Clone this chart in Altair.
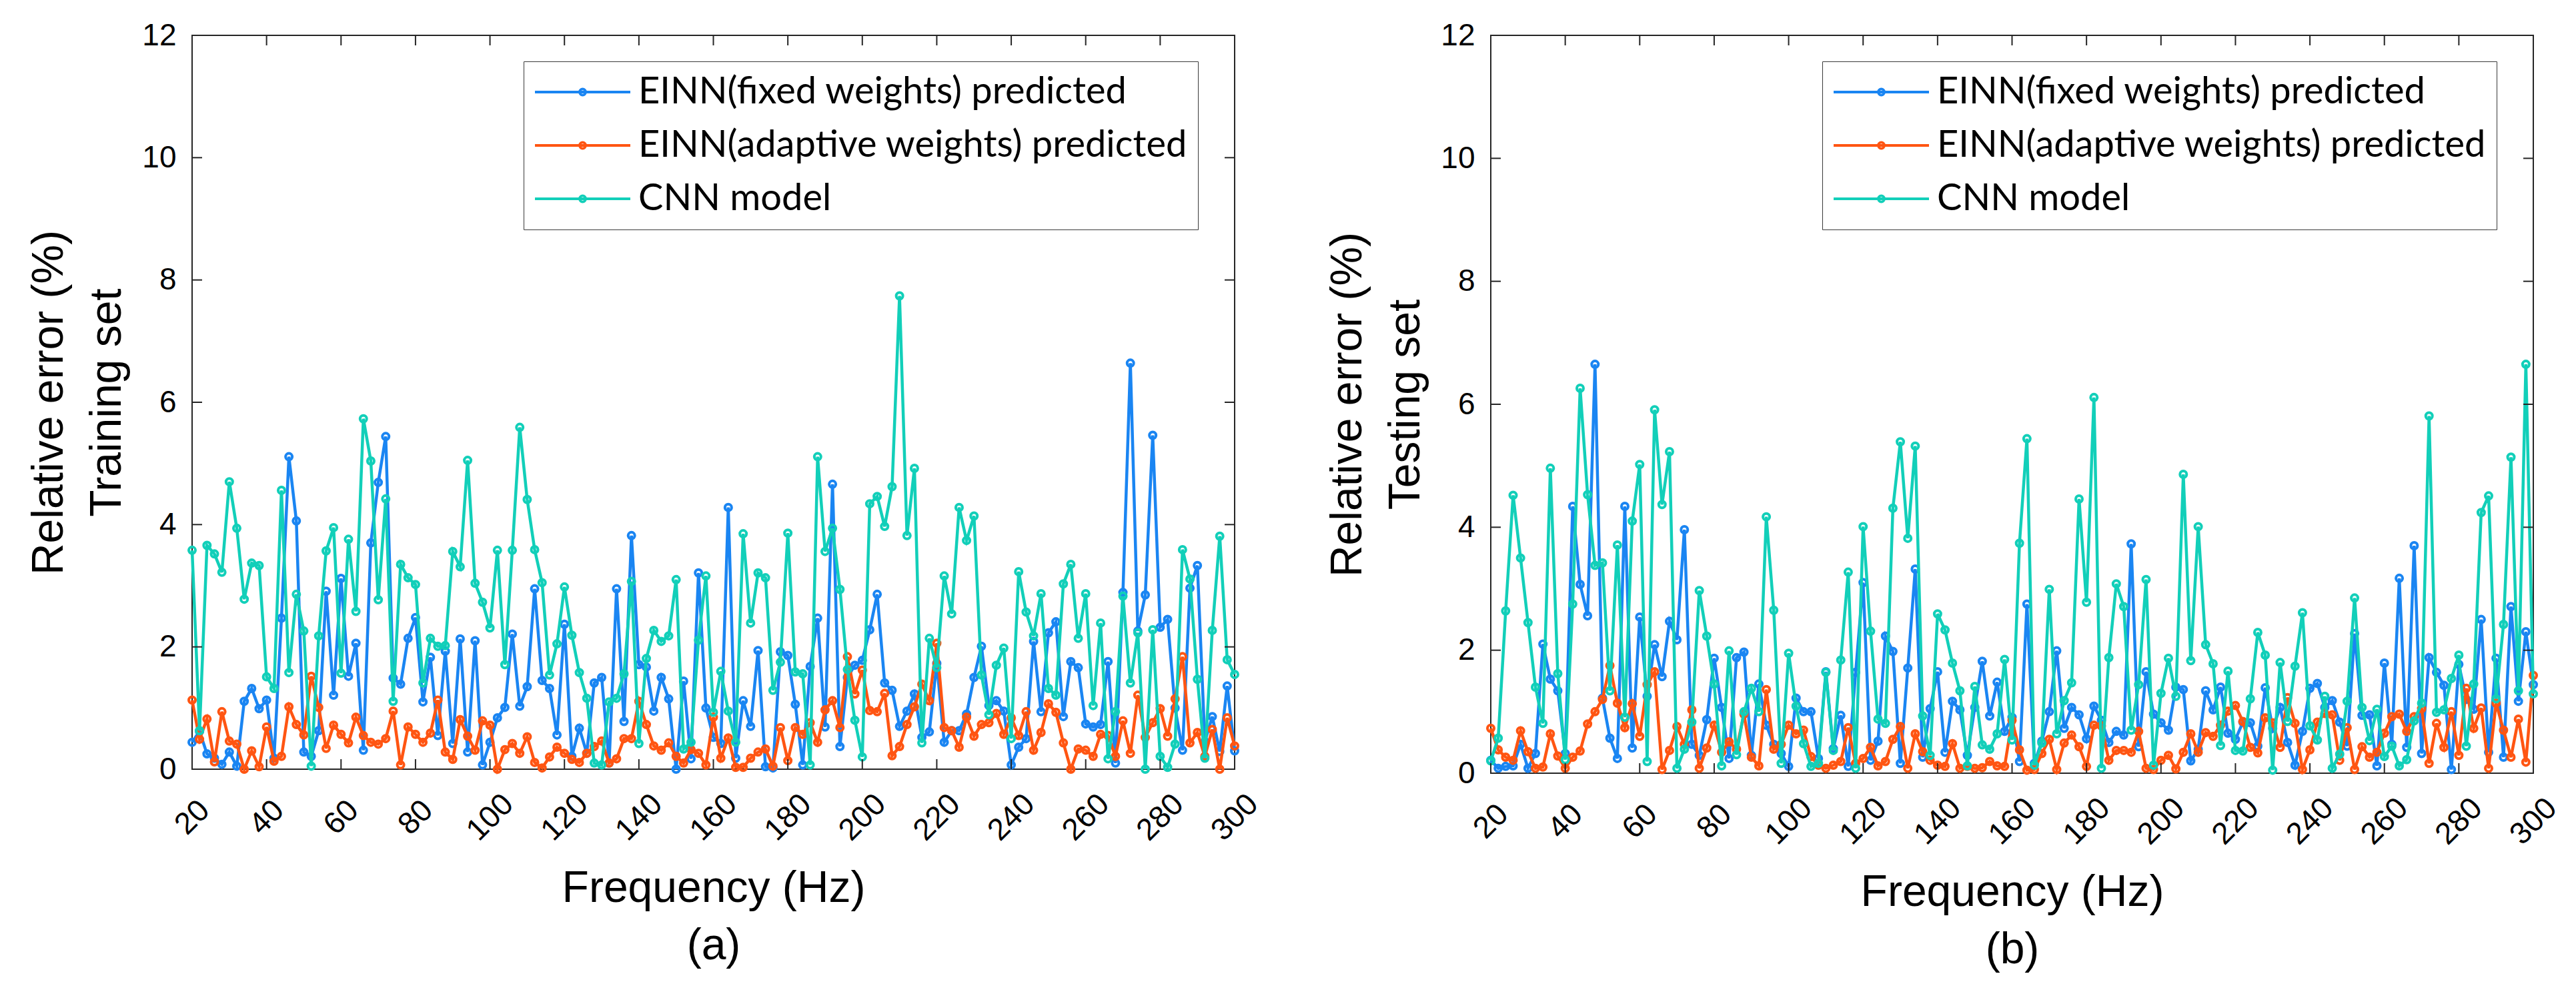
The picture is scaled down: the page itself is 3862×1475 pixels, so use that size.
import altair as alt
import pandas as pd

FREQ = list(range(20, 301, 2))
SERIES = ["EINN(fixed weights) predicted", "EINN(adaptive weights) predicted", "CNN model"]
COLORS = ["#1A85F2", "#FF5512", "#12CFB9"]
X_TICKS = list(range(20, 301, 20))
Y_TICKS = list(range(0, 13, 2))

# ---- (a) Training set ----
A_FIXED = [
    0.44, 0.62, 0.25, 0.18, 0.08, 0.28, 0.05, 1.11, 1.32, 0.99,
    1.13, 0.18, 2.47, 5.11, 4.06, 0.28, 0.21, 0.63, 2.91, 1.21,
    3.12, 1.52, 2.06, 0.31, 3.70, 4.69, 5.44, 1.49, 1.39, 2.14,
    2.48, 1.10, 1.83, 0.55, 1.93, 0.42, 2.13, 0.28, 2.10, 0.07,
    0.44, 0.84, 1.01, 2.21, 1.03, 1.35, 2.95, 1.45, 1.32, 0.56,
    2.37, 0.21, 0.67, 0.26, 1.41, 1.50, 0.10, 2.95, 0.78, 3.82,
    1.71, 1.67, 0.95, 1.50, 1.15, 0.00, 1.44, 0.17, 3.21, 1.00,
    0.52, 0.42, 4.28, 0.18, 1.12, 0.70, 1.94, 0.04, 0.02, 1.92,
    1.86, 1.06, 0.07, 1.68, 2.47, 0.69, 4.66, 0.37, 1.50, 1.70,
    1.78, 2.28, 2.86, 1.41, 1.29, 0.70, 0.95, 1.23, 0.52, 0.61,
    1.73, 0.44, 0.63, 0.63, 0.90, 1.50, 2.01, 1.04, 1.12, 0.95,
    0.07, 0.36, 0.50, 2.09, 0.94, 2.23, 2.41, 0.86, 1.76, 1.66,
    0.74, 0.69, 0.73, 1.76, 0.10, 2.89, 6.64, 2.26, 2.85, 5.46,
    2.32, 2.45, 1.00, 0.31, 2.96, 3.33, 0.45, 0.86, 0.29, 1.36,
    0.30,
]
A_ADAPT = [
    1.13, 0.49, 0.82, 0.12, 0.94, 0.46, 0.41, 0.00, 0.30, 0.04,
    0.69, 0.13, 0.21, 1.02, 0.73, 0.56, 1.52, 1.01, 0.34, 0.72,
    0.57, 0.43, 0.85, 0.55, 0.44, 0.41, 0.50, 0.95, 0.07, 0.69,
    0.57, 0.44, 0.59, 1.13, 0.28, 0.16, 0.81, 0.54, 0.31, 0.79,
    0.72, 0.00, 0.32, 0.42, 0.26, 0.53, 0.11, 0.02, 0.20, 0.36,
    0.26, 0.16, 0.11, 0.26, 0.37, 0.46, 0.10, 0.17, 0.50, 0.50,
    1.11, 0.73, 0.38, 0.31, 0.43, 0.21, 0.10, 0.32, 0.26, 0.07,
    0.85, 0.18, 0.51, 0.03, 0.03, 0.18, 0.28, 0.33, 0.05, 0.68,
    0.14, 0.68, 0.57, 0.76, 0.44, 0.97, 1.12, 0.68, 1.84, 1.23,
    1.62, 0.96, 0.94, 1.24, 0.22, 0.37, 0.73, 1.02, 1.39, 1.12,
    2.06, 0.68, 0.63, 0.36, 0.85, 0.54, 0.73, 0.76, 0.91, 0.57,
    0.84, 0.55, 0.94, 0.31, 0.60, 1.07, 0.93, 0.43, 0.00, 0.33,
    0.31, 0.21, 0.57, 0.55, 0.21, 0.79, 0.26, 1.21, 0.52, 0.76,
    0.99, 0.54, 1.15, 1.84, 0.43, 0.60, 0.21, 0.65, 0.00, 0.84,
    0.38,
]
A_CNN = [
    3.58, 0.63, 3.66, 3.52, 3.22, 4.70, 3.94, 2.78, 3.37, 3.33,
    1.51, 1.32, 4.56, 1.58, 2.86, 2.26, 0.05, 2.18, 3.57, 3.95,
    1.57, 3.76, 2.58, 5.73, 5.04, 2.77, 4.42, 1.11, 3.35, 3.13,
    3.02, 1.41, 2.14, 2.01, 2.02, 3.56, 3.31, 5.05, 3.04, 2.73,
    2.31, 3.58, 1.71, 3.58, 5.59, 4.41, 3.59, 3.05, 1.54, 2.05,
    2.98, 2.19, 1.58, 1.16, 0.10, 0.07, 1.10, 1.16, 1.56, 3.07,
    0.42, 1.81, 2.27, 2.09, 2.18, 3.10, 0.33, 0.44, 2.11, 3.16,
    0.93, 1.60, 0.95, 0.44, 3.85, 2.39, 3.21, 3.13, 1.29, 1.75,
    3.86, 1.59, 1.56, 0.07, 5.11, 3.56, 3.94, 2.94, 1.63, 0.80,
    0.20, 4.34, 4.46, 3.97, 4.62, 7.74, 3.82, 4.92, 0.43, 2.14,
    1.66, 3.16, 2.54, 4.28, 3.74, 4.14, 1.54, 0.89, 1.70, 1.98,
    0.50, 3.23, 2.57, 2.18, 2.87, 1.32, 1.21, 3.03, 3.35, 2.14,
    2.87, 1.04, 2.39, 0.17, 0.94, 2.83, 1.41, 2.23, 0.00, 2.28,
    0.21, 0.03, 0.41, 3.59, 3.11, 1.47, 0.18, 2.27, 3.81, 1.79,
    1.55,
]

# ---- (b) Testing set ----
B_FIXED = [
    0.21, 0.08, 0.11, 0.12, 0.47, 0.08, 0.32, 2.10, 1.53, 1.34,
    0.32, 4.34, 3.07, 2.56, 6.65, 1.22, 0.57, 0.24, 4.34, 0.41,
    2.54, 1.25, 2.09, 1.57, 2.47, 2.17, 3.96, 0.47, 0.29, 0.87,
    1.87, 1.07, 0.24, 1.88, 1.97, 0.29, 1.45, 0.78, 0.47, 0.32,
    0.11, 1.22, 1.00, 1.00, 0.24, 1.65, 0.40, 0.94, 0.11, 1.64,
    3.10, 0.21, 0.52, 2.23, 1.98, 0.16, 1.71, 3.32, 0.26, 1.05,
    1.65, 0.34, 1.17, 1.03, 0.29, 1.07, 1.82, 0.93, 1.48, 0.68,
    0.91, 0.19, 2.75, 0.16, 0.52, 1.00, 1.99, 0.73, 1.07, 0.95,
    0.56, 1.09, 0.86, 0.50, 0.68, 0.62, 3.73, 0.43, 1.65, 0.96,
    0.82, 0.70, 1.40, 1.36, 0.20, 0.39, 1.34, 1.03, 1.40, 0.65,
    0.55, 0.83, 0.82, 0.44, 1.39, 0.73, 1.07, 0.50, 0.13, 0.68,
    1.38, 1.46, 1.07, 1.18, 0.83, 0.44, 2.27, 0.94, 0.95, 0.12,
    1.79, 0.47, 3.17, 0.42, 3.70, 0.32, 1.88, 1.64, 1.43, 0.06,
    1.77, 1.20, 1.04, 2.50, 0.34, 1.87, 0.26, 2.71, 1.17, 2.30,
    1.44,
]
B_ADAPT = [
    0.73, 0.38, 0.26, 0.21, 0.69, 0.35, 0.08, 0.10, 0.64, 0.28,
    0.08, 0.26, 0.36, 0.80, 1.00, 1.20, 1.75, 1.14, 0.74, 1.13,
    0.60, 1.44, 1.65, 0.06, 0.37, 0.76, 0.47, 1.03, 0.08, 0.41,
    0.78, 0.34, 0.51, 0.39, 0.96, 0.26, 0.12, 1.36, 0.39, 0.47,
    0.78, 0.64, 0.70, 0.27, 0.13, 0.08, 0.13, 0.19, 0.74, 0.16,
    0.24, 0.42, 0.12, 0.19, 0.55, 0.76, 0.08, 0.64, 0.35, 0.21,
    0.13, 0.11, 0.48, 0.08, 0.11, 0.08, 0.09, 0.19, 0.12, 0.11,
    0.86, 0.38, 0.05, 0.06, 0.32, 0.55, 0.06, 0.49, 0.62, 0.43,
    0.11, 0.78, 0.77, 0.21, 0.37, 0.37, 0.34, 0.68, 0.08, 0.06,
    0.21, 0.29, 0.07, 0.34, 0.64, 0.34, 0.66, 0.60, 0.78, 1.01,
    1.10, 0.84, 0.42, 0.33, 0.90, 0.82, 0.42, 1.23, 0.81, 0.06,
    0.38, 0.83, 0.97, 0.95, 0.21, 0.74, 0.06, 0.43, 0.26, 0.34,
    0.65, 0.92, 0.96, 0.68, 0.92, 1.05, 0.16, 0.81, 0.42, 1.00,
    0.29, 1.38, 0.73, 1.06, 0.08, 1.14, 0.70, 0.26, 0.88, 0.18,
    1.59,
]
B_CNN = [
    0.20, 0.57, 2.64, 4.52, 3.50, 2.45, 1.40, 0.81, 4.96, 1.62,
    0.22, 2.75, 6.26, 4.53, 3.38, 3.42, 1.34, 3.71, 0.91, 4.10,
    5.02, 0.19, 5.91, 4.37, 5.23, 0.08, 0.39, 0.83, 2.97, 2.23,
    1.45, 0.12, 1.99, 0.30, 1.00, 1.38, 1.00, 4.17, 2.65, 0.16,
    1.95, 1.09, 0.48, 0.11, 0.16, 1.64, 0.37, 1.84, 3.27, 0.08,
    4.01, 2.31, 0.88, 0.81, 4.31, 5.39, 3.82, 5.32, 0.93, 0.29,
    2.59, 2.33, 1.79, 1.34, 0.12, 1.41, 0.46, 0.39, 0.64, 1.85,
    0.54, 3.74, 5.44, 0.13, 0.49, 2.99, 0.64, 1.18, 1.47, 4.46,
    2.78, 6.11, 0.08, 1.88, 3.08, 2.71, 0.70, 1.44, 3.15, 0.13,
    1.30, 1.87, 1.25, 4.86, 1.83, 4.01, 2.09, 1.78, 0.45, 1.66,
    0.37, 0.36, 1.21, 2.29, 1.92, 0.05, 1.80, 0.84, 1.74, 2.61,
    0.77, 0.54, 1.25, 0.08, 0.31, 1.17, 2.85, 1.07, 0.53, 1.04,
    0.27, 0.44, 0.12, 0.22, 0.85, 1.14, 5.81, 0.99, 1.03, 1.54,
    1.92, 0.44, 1.45, 4.24, 4.51, 1.21, 2.42, 5.14, 1.34, 6.65,
    1.29,
]

for arr in (A_FIXED, A_ADAPT, A_CNN, B_FIXED, B_ADAPT, B_CNN):
    assert len(arr) == len(FREQ), len(arr)

W = 1563
H_A, H_B = 1100, 1106
TICK = 15
FRAME = "#262626"
AXIS_FONT = "Liberation Sans"
LEGEND_FONT = "Lato"

LEG_LEN = 143.0
LEG_R = 4.6 / (LEG_LEN / 2)
LEG_PATH = (
    f"M-1,0L1,0M{LEG_R:.4f},0A{LEG_R:.4f},{LEG_R:.4f},0,1,1,{-LEG_R:.4f},0"
    f"A{LEG_R:.4f},{LEG_R:.4f},0,1,1,{LEG_R:.4f},0"
)


def long_df(fixed, adaptive, cnn):
    rows = []
    for name, vals in zip(SERIES, [fixed, adaptive, cnn]):
        for f, v in zip(FREQ, vals):
            rows.append({"f": f, "v": v, "s": name})
    return pd.DataFrame(rows)


def panel(fixed, adaptive, cnn, ytitle, xtitle, H):
    df = long_df(fixed, adaptive, cnn)
    xscale = alt.Scale(domain=[20, 300], nice=False, zero=False)
    yscale = alt.Scale(domain=[0, 12], nice=False, zero=False)
    x = alt.X(
        "f:Q",
        scale=xscale,
        axis=alt.Axis(
            values=X_TICKS,
            title=xtitle,
            labelAngle=315,
            labelAlign="center",
            labelBaseline="middle",
            labelPadding=72,
            labelOverlap=False,
            labelFlush=False,
            titlePadding=31,
            titleLineHeight=86,
        ),
    )
    y = alt.Y(
        "v:Q",
        scale=yscale,
        axis=alt.Axis(
            values=Y_TICKS,
            title=ytitle,
            labelPadding=24,
            titlePadding=18,
            titleLineHeight=87,
        ),
    )
    color = alt.Color(
        "s:N",
        scale=alt.Scale(domain=SERIES, range=COLORS),
        legend=alt.Legend(
            title=None,
            orient="none",
            legendX=497,
            legendY=39,
            labelFont=LEGEND_FONT,
            labelFontSize=56,
            labelColor="#000000",
            labelLimit=0,
            labelOffset=10,
            symbolType=LEG_PATH,
            symbolSize=LEG_LEN * LEG_LEN,
            symbolStrokeWidth=3.8,
            symbolFillColor="transparent",
            clipHeight=62,
            rowPadding=18,
            padding=15,
            strokeColor="#3a3a3a",
            fillColor="#ffffff",
        ),
    )
    layers = []
    for name in SERIES:
        sub = df[df["s"] == name]
        base = alt.Chart(sub)
        layers.append(base.mark_line(strokeWidth=4.5).encode(x=x, y=y, color=color))
        layers.append(
            base.mark_point(filled=False, size=100, strokeWidth=4, opacity=1)
            .encode(x=x, y=y, color=color)
        )

    xt = pd.DataFrame({"f": X_TICKS})
    yt = pd.DataFrame({"v": Y_TICKS})
    rule = dict(color=FRAME, strokeWidth=2)
    layers.append(alt.Chart(xt).mark_rule(**rule).encode(x=x, y=alt.value(H), y2=alt.value(H - TICK)))
    layers.append(alt.Chart(xt).mark_rule(**rule).encode(x=x, y=alt.value(0), y2=alt.value(TICK)))
    layers.append(alt.Chart(yt).mark_rule(**rule).encode(y=y, x=alt.value(0), x2=alt.value(TICK)))
    layers.append(alt.Chart(yt).mark_rule(**rule).encode(y=y, x=alt.value(W), x2=alt.value(W - TICK)))

    return alt.layer(*layers).properties(width=W, height=H)


pa = panel(A_FIXED, A_ADAPT, A_CNN, ["Relative error (%)", "Training set"],
           ["Frequency (Hz)", "(a)"], H_A)
pb = panel(B_FIXED, B_ADAPT, B_CNN, ["Relative error (%)", "Testing set"],
           ["Frequency (Hz)", "(b)"], H_B)

chart = (
    alt.hconcat(pa, pb, spacing=384, bounds="flush")
    .resolve_scale(color="independent")
    .resolve_legend(color="independent")
    .properties(padding={"left": 31, "top": 21, "right": 5, "bottom": 5}, background="#ffffff")
    .configure_view(stroke=FRAME, strokeWidth=2)
    .configure_axis(
        labelFont=AXIS_FONT,
        labelFontSize=46,
        labelColor="#000000",
        titleFont=AXIS_FONT,
        titleFontSize=66,
        titleFontWeight="normal",
        titleColor="#000000",
        ticks=False,
        tickSize=0,
        domain=False,
        grid=False,
    )
)

chart.save("out.html", embed_options={"renderer": "svg", "actions": False})
